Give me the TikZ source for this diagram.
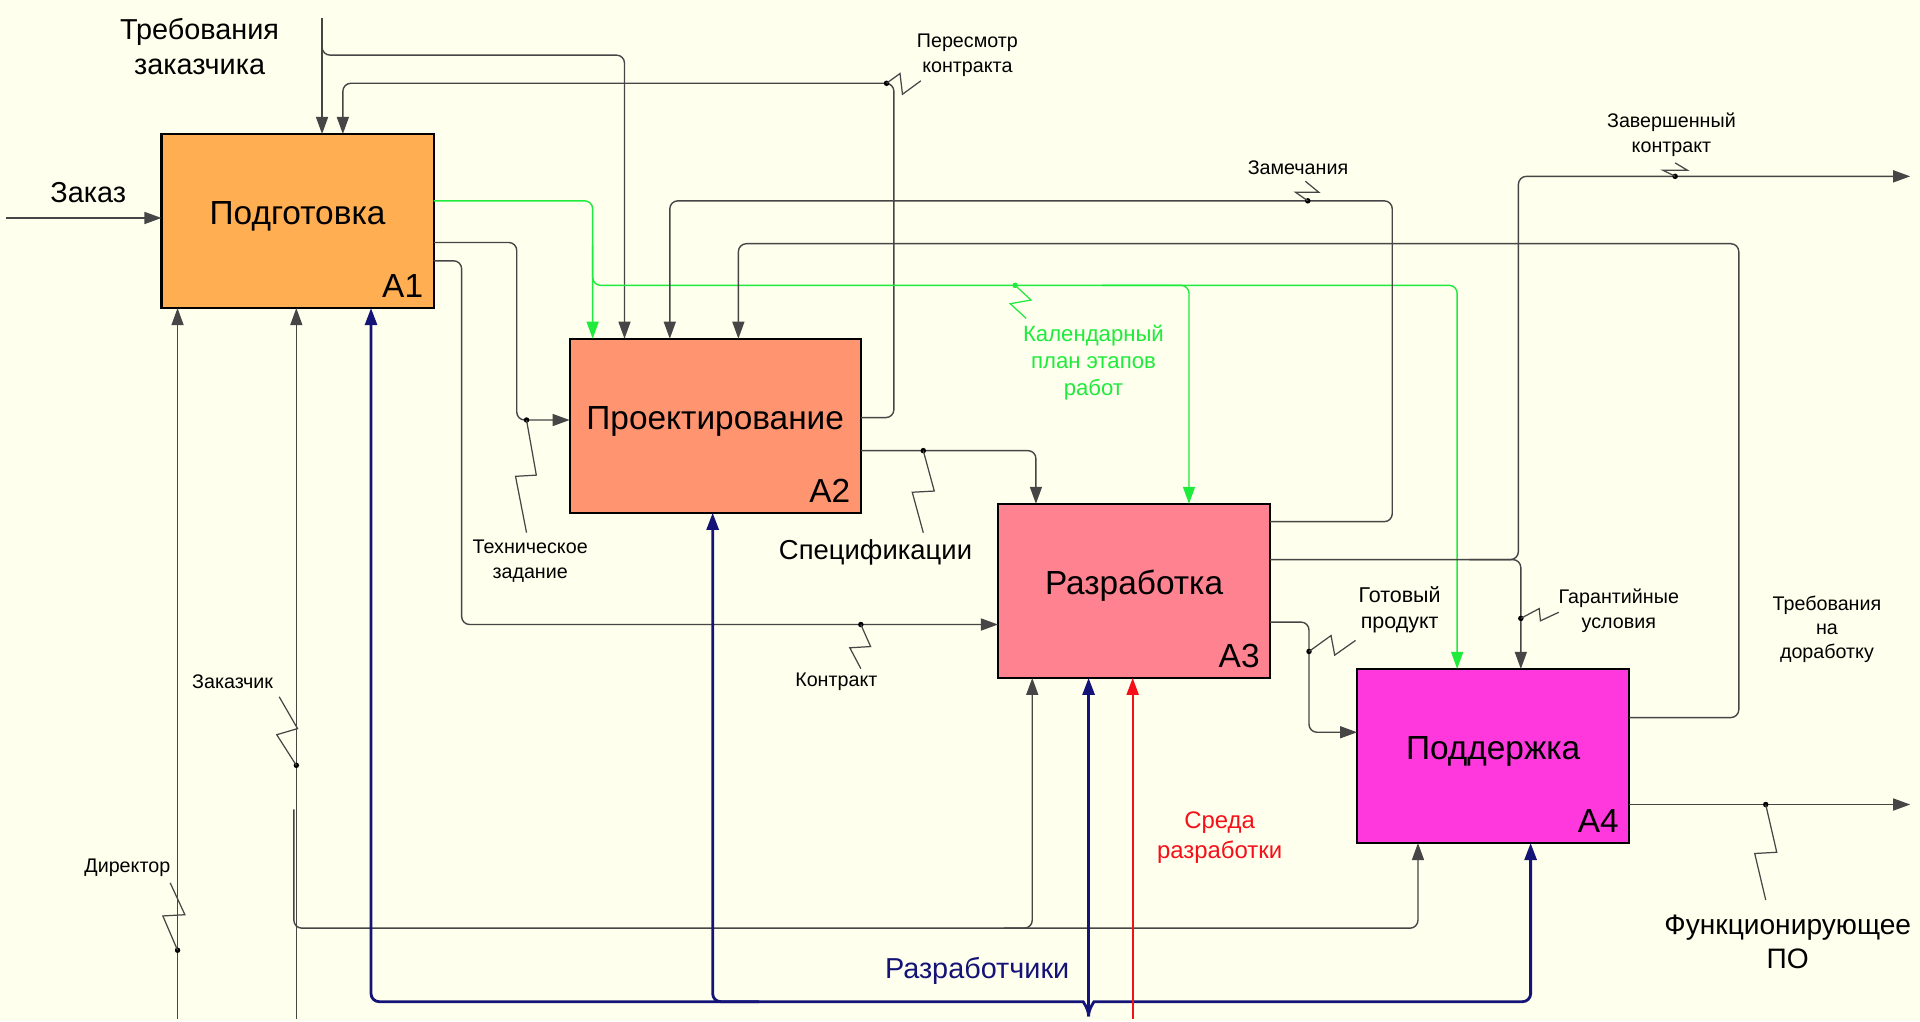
\documentclass[tikz,border=0pt]{standalone}
\usepackage{fontspec}
\setmainfont{Liberation Sans}
\usepackage{tikz}
\usetikzlibrary{positioning,arrows.meta}

\definecolor{bg}{RGB}{255,255,238}
\definecolor{ink}{RGB}{70,70,70}
\definecolor{a1c}{RGB}{255,174,82}
\definecolor{a2c}{RGB}{255,148,112}
\definecolor{a3c}{RGB}{255,130,145}
\definecolor{a4c}{RGB}{255,56,221}
\definecolor{plangreen}{RGB}{30,235,60}
\definecolor{devnavy}{RGB}{20,20,120}
\definecolor{envred}{RGB}{245,15,25}

\tikzstyle{A1_COLOR} = [fill=a1c]
\tikzstyle{A2_COLOR} = [fill=a2c]
\tikzstyle{A3_COLOR} = [fill=a3c]
\tikzstyle{A4_COLOR} = [fill=a4c]
\tikzstyle{func}     = [rectangle, draw=black, line width=0.6pt, minimum height=1.74cm, inner sep=0pt, outer sep=0pt,
                        font=\fontsize{9.5}{11}\selectfont, text height=6.8pt, text depth=4.6pt]
\tikzstyle{num}      = [anchor=south east, inner sep=2.8pt, font=\fontsize{9.5}{11}\selectfont]
\tikzstyle{mw}       = [minimum width=2.72cm]
\tikzstyle{A1_BOX}   = [func, mw, A1_COLOR, label={[num]south east:A1}]
\tikzstyle{A2_BOX}   = [func, minimum width=2.91cm, A2_COLOR, label={[num]south east:A2}]
\tikzstyle{A3_BOX}   = [func, mw, A3_COLOR, label={[num]south east:A3}]
\tikzstyle{A4_BOX}   = [func, mw, A4_COLOR, label={[num]south east:A4}]
\tikzstyle{flow}     = [draw=ink, line width=0.4pt, rounded corners=0.08cm,
                        -{Triangle[length=0.17cm,width=0.12cm]}]
\tikzstyle{GREEN_FLOW} = [flow, draw=plangreen]
\tikzstyle{NAVY_FLOW}  = [flow, draw=devnavy, line width=0.8pt]
\tikzstyle{RED_FLOW}   = [flow, draw=envred, line width=0.6pt]
\tikzstyle{tilde}    = [draw=ink, line width=0.35pt]
\tikzstyle{dot}      = [circle, fill=black, inner sep=0pt, minimum size=0.055cm]
\tikzstyle{small_lbl} = [font=\fontsize{5.6}{7.1}\selectfont, align=center, inner sep=0pt]
\tikzstyle{mid_lbl}   = [font=\fontsize{8.2}{9.8}\selectfont, align=center, inner sep=0pt]

\begin{document}
\begin{tikzpicture}[x=0.012245cm, y=-0.012245cm]
  \useasboundingbox[fill=bg] (0,0) rectangle (1568,834);

  % function blocks
  \node[A1_BOX] (A1) at (243,180.5) {Подготовка};
  \node[A2_BOX, below right=0.306cm and 1.359cm of A1] (A2) {Проектирование};
  \node[A3_BOX, below right=-0.09cm and 1.371cm of A2] (A3) {Разработка};
  \node[A4_BOX, below right=-0.09cm and 0.869cm of A3] (A4) {Поддержка};

  % free ends
  \coordinate (zakaz_in) at (5,178);
  \coordinate (treb_in) at (263,15);
  \coordinate (zav_out) at (1560,144);
  \coordinate (po_out) at (1560,657);
  \coordinate (dir_in) at (145,832);
  \coordinate (zak_in) at (242,832);
  \coordinate (razr_in) at (889,830);
  \coordinate (sreda_in) at (925,832);

  % inputs and controls
  \draw[flow] (zakaz_in) -- (A1.west |- zakaz_in);
  \node[mid_lbl] (zakaz_lbl) at (72,157) {Заказ};

  \draw[flow] (treb_in) -- (A1.north -| treb_in);
  \draw[flow] (263,30) -- (263,45) -- (510,45) -- (A2.north -| 510,0);
  \node[mid_lbl] (treb_lbl) at (163,38) {Требования\\заказчика};

  \draw[flow] (A2.east |- 0,341) -- (730,341) -- (730,68) -- (280,68) -- (A1.north -| 280,0);
  \node[dot] (per_dot) at (724,68) {};
  \draw[tilde] (per_dot.center) -- (735,60) -- (737,77) -- (752,66);
  \node[small_lbl] (per_lbl) at (790,45) {Пересмотр\\контракта};

  \draw[GREEN_FLOW] (A1.east |- 0,164) -- (484,164) -- (A2.north -| 484,0);
  \draw[GREEN_FLOW] (484,200) -- (484,233) -- (1190,233) -- (A4.north -| 1190,0);
  \draw[GREEN_FLOW] (900,233) -- (971,233) -- (A3.north -| 971,0);
  \node[dot, fill=plangreen] (plan_dot) at (829,233) {};
  \draw[tilde, draw=plangreen] (plan_dot.center) -- (842,245) -- (825,248) -- (838,260);
  \node[small_lbl, text=plangreen, font=\fontsize{6.3}{7.7}\selectfont] (plan_lbl) at (893,296) {Календарный\\план этапов\\работ};

  \draw[flow] (A1.east |- 0,198) -- (422,198) -- (422,343) -- (A2.west |- 0,343);
  \node[dot] (tz_dot) at (430,343) {};
  \draw[tilde] (tz_dot.center) -- (438,388) -- (421,389) -- (430,435);
  \node[small_lbl] (tz_lbl) at (433,458) {Техническое\\задание};

  \draw[flow] (A1.east |- 0,213) -- (377,213) -- (377,510) -- (A3.west |- 0,510);
  \node[dot] (kontr_dot) at (703,510) {};
  \draw[tilde] (kontr_dot.center) -- (711,528) -- (694,529) -- (703,546);
  \node[small_lbl] (kontr_lbl) at (683,557) {Контракт};

  \draw[flow] (A2.east |- 0,368) -- (846,368) -- (A3.north -| 846,0);
  \node[dot] (spec_dot) at (754,368) {};
  \draw[tilde] (spec_dot.center) -- (763,401) -- (745,402) -- (754,435);
  \node[mid_lbl, font=\fontsize{7.8}{9.4}\selectfont] (spec_lbl) at (715,451) {Спецификации};

  \draw[flow] (A3.east |- 0,426) -- (1137,426) -- (1137,164) -- (547,164) -- (A2.north -| 547,0);
  \node[dot] (zam_dot) at (1068,164) {};
  \draw[tilde] (zam_dot.center) -- (1058,157) -- (1077,157) -- (1066,148);
  \node[small_lbl] (zam_lbl) at (1060,137) {Замечания};

  \draw[flow] (A4.east |- 0,586) -- (1420,586) -- (1420,199) -- (603,199) -- (A2.north -| 603,0);
  \node[small_lbl, font=\fontsize{5.6}{6.8}\selectfont] (dor_lbl) at (1492,514) {Требования\\на\\доработку};

  % outputs
  \draw[flow] (A3.east |- 0,457) -- (1240,457) -- (1240,144) -- (zav_out);
  \node[dot] (zav_dot) at (1368,144) {};
  \draw[tilde] (zav_dot.center) -- (1358,139) -- (1378,139) -- (1368,133);
  \node[small_lbl] (zav_lbl) at (1365,110) {Завершенный\\контракт};

  \draw[flow] (1200,457) -- (1242,457) -- (A4.north -| 1242,0);
  \node[dot] (gar_dot) at (1242,505) {};
  \draw[tilde] (gar_dot.center) -- (1257,497) -- (1258,507) -- (1273,500);
  \node[small_lbl] (gar_lbl) at (1322,499) {Гарантийные\\условия};

  \draw[flow] (A3.east |- 0,508) -- (1069,508) -- (1069,598) -- (A4.west |- 0,598);
  \node[dot] (got_dot) at (1069,532) {};
  \draw[tilde] (got_dot.center) -- (1087,519) -- (1090,535) -- (1107,523);
  \node[small_lbl, font=\fontsize{6.1}{7.6}\selectfont] (got_lbl) at (1143,498) {Готовый\\продукт};

  \draw[flow] (A4.east |- po_out) -- (po_out);
  \node[dot] (po_dot) at (1442,657) {};
  \draw[tilde] (po_dot.center) -- (1451,696) -- (1433,697) -- (1442,735);
  \node[mid_lbl, font=\fontsize{8}{9.8}\selectfont] (po_lbl) at (1460,769) {Функционирующее\\ПО};

  % mechanisms
  \draw[flow] (dir_in) -- (A1.south -| dir_in);
  \node[dot] (dir_dot) at (145,776) {};
  \draw[tilde] (dir_dot.center) -- (133,748) -- (151,747) -- (139,721);
  \node[small_lbl] (dir_lbl) at (104,709) {Директор};

  \draw[flow] (zak_in) -- (A1.south -| zak_in);
  \draw[flow] (240,661) -- (240,758) -- (1158,758) -- (A4.south -| 1158,0);
  \draw[flow] (820,758) -- (843,758) -- (A3.south -| 843,0);
  \node[dot] (zak_dot) at (242,625) {};
  \draw[tilde] (zak_dot.center) -- (226,600) -- (243,595) -- (228,569);
  \node[small_lbl] (zak_lbl) at (190,557) {Заказчик};

  \draw[NAVY_FLOW] (razr_in) -- (A3.south -| razr_in);
  \draw[NAVY_FLOW] (razr_in) to[out=90,in=0] (878,818) -- (303,818) -- (A1.south -| 303,0);
  \draw[NAVY_FLOW] (620,818) -- (582,818) -- (A2.south -| 582,0);
  \draw[NAVY_FLOW] (razr_in) to[out=90,in=180] (900,818) -- (1250,818) -- (A4.south -| 1250,0);
  \node[mid_lbl, text=devnavy] (razr_lbl) at (798,793) {Разработчики};

  \draw[RED_FLOW] (sreda_in) -- (A3.south -| sreda_in);
  \node[small_lbl, text=envred, font=\fontsize{6.8}{8.7}\selectfont] (sreda_lbl) at (996,684) {Среда\\разработки};
\end{tikzpicture}
\end{document}
